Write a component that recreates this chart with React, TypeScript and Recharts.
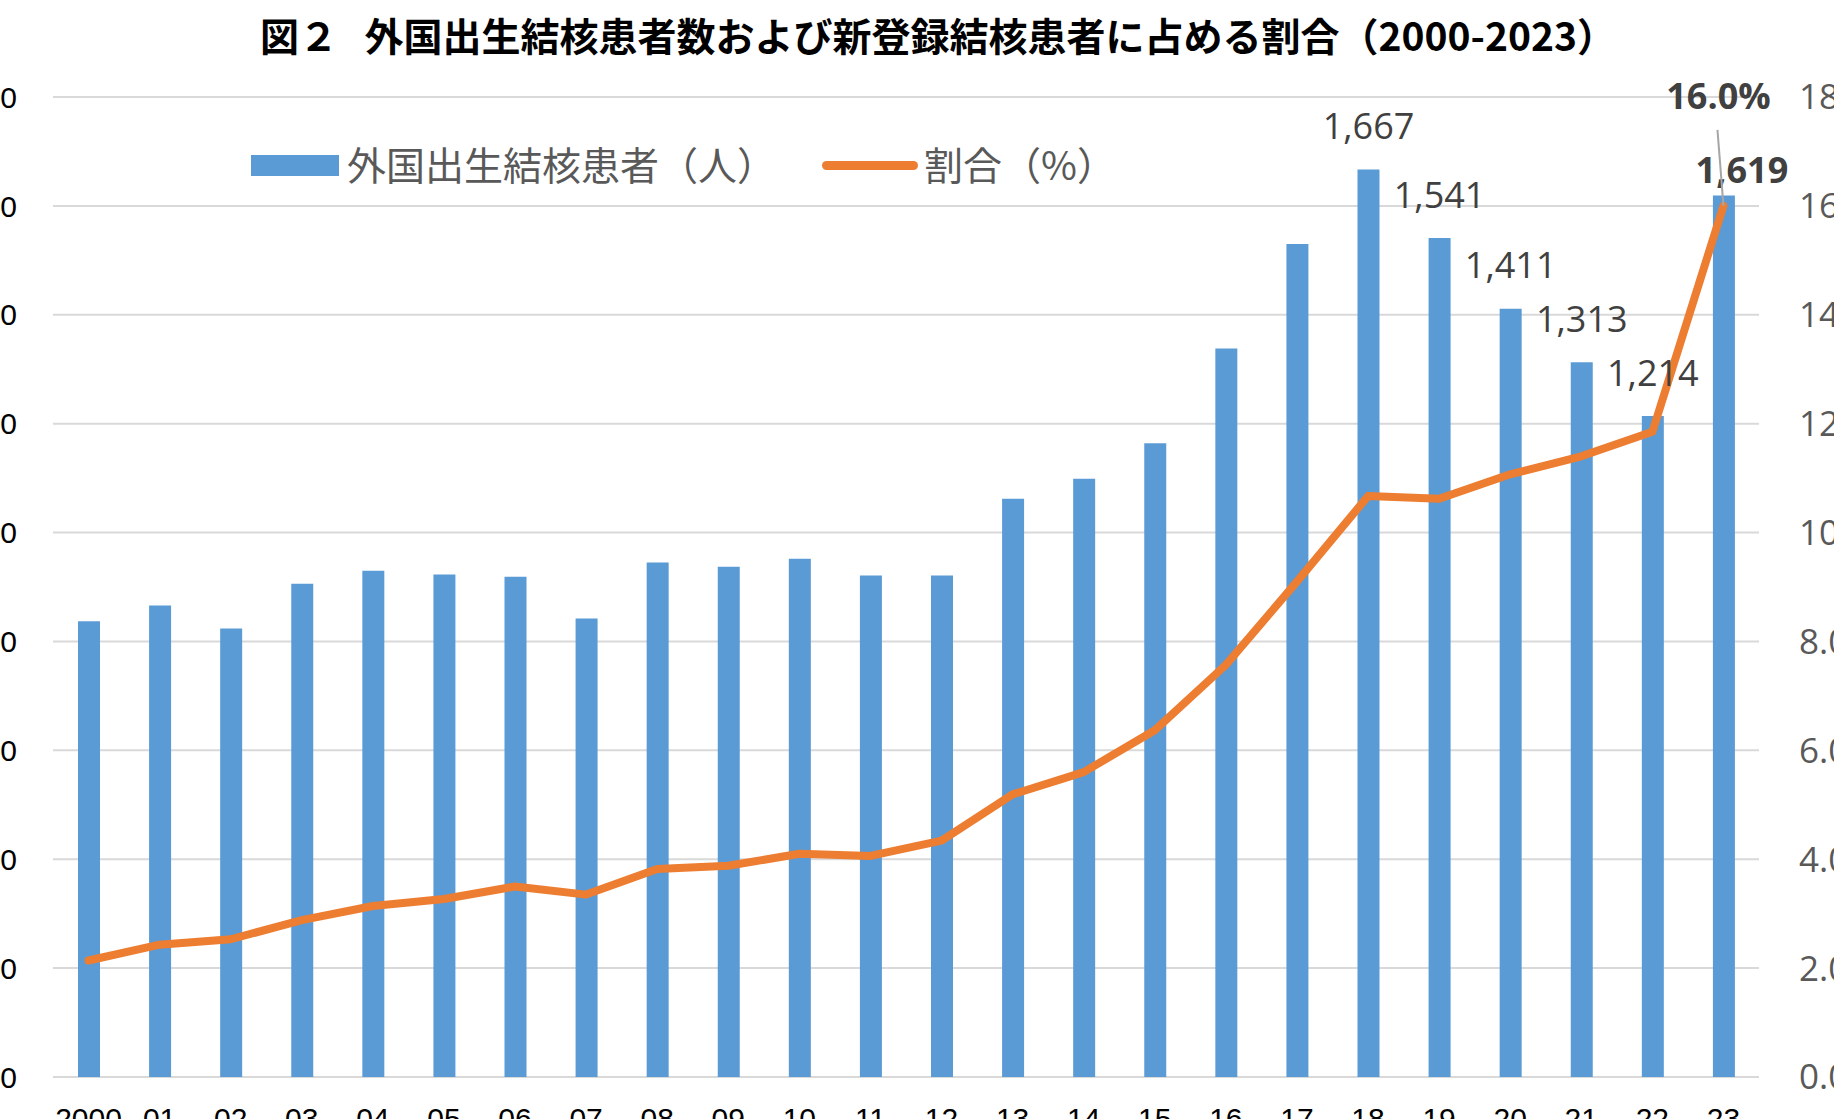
import {
  ComposedChart,
  Bar,
  Line,
  XAxis,
  YAxis,
  CartesianGrid,
  Legend,
  LabelList,
} from 'recharts';

const years = [
  '2000', '01', '02', '03', '04', '05', '06', '07', '08', '09', '10', '11',
  '12', '13', '14', '15', '16', '17', '18', '19', '20', '21', '22', '23',
];

// 外国出生結核患者（人）
const foreignBornCases = [
  837, 866, 824, 906, 930, 923, 919, 842, 945, 937, 952, 921,
  921, 1062, 1099, 1164, 1338, 1530, 1667, 1541, 1411, 1313, 1214, 1619,
];

// 新登録結核患者に占める割合（%）
const shareOfNewCases = [
  2.14, 2.43, 2.53, 2.88, 3.14, 3.27, 3.5, 3.35, 3.82, 3.88, 4.1, 4.06,
  4.34, 5.19, 5.6, 6.37, 7.57, 9.1, 10.67, 10.62, 11.07, 11.4, 11.85, 16.0,
];

const leftTicks = [0, 200, 400, 600, 800, 1000, 1200, 1400, 1600, 1800];
const rightTicks = [0, 2, 4, 6, 8, 10, 12, 14, 16, 18];

// bar labels are shown from 2018 on
const firstLabelled = 18;

const data = years.map((year, i) => ({
  year,
  cases: foreignBornCases[i],
  share: shareOfNewCases[i],
}));

const BLUE = '#5B9BD5';
const ORANGE = '#ED7D31';
const LABEL_GREY = '#404040';
const TEXT_GREY = '#595959';
const JP_FONT = '"Noto Sans CJK JP", sans-serif';
const NUM_FONT = '"Open Sans", sans-serif';

const renderBarLabel = (props: any) => {
  const { x, y, width, value, index } = props;
  if (index < firstLabelled || value == null) return null;
  const last = index === years.length - 1;
  return (
    <text
      x={x + width / 2 + (last ? 18 : 0)}
      y={y - (last ? 26 : 44)}
      textAnchor='middle'
      dominantBaseline='central'
      fontFamily={NUM_FONT}
      fontSize={36}
      fontWeight={last ? 700 : 400}
      fill={LABEL_GREY}
    >
      {Number(value).toLocaleString('en-US')}
    </text>
  );
};

const renderLineLabel = (props: any) => {
  const { x, y, value, index } = props;
  if (index !== years.length - 1) return null;
  return (
    <g>
      <line x1={x - 6} y1={y - 76} x2={x} y2={y} stroke='#A6A6A6' strokeWidth={2} />
      <text
        x={x - 5}
        y={y - 110}
        textAnchor='middle'
        dominantBaseline='central'
        fontFamily={NUM_FONT}
        fontSize={36}
        fontWeight={700}
        fill={LABEL_GREY}
      >
        {Number(value).toFixed(1)}%
      </text>
    </g>
  );
};

// legend item offsets, keyed by series
const itemLefts: Record<string, number> = { cases: 0, share: 571 };

const renderLegend = (props: any) => {
  const { payload } = props;
  return (
    <div style={{ position: 'relative', width: 900, height: 40 }}>
      {(payload || []).map((entry: any) => {
        const isLine = entry.dataKey === 'share';
        const left = itemLefts[entry.dataKey] ?? 0;
        return (
          <div key={entry.value} style={{ position: 'absolute', left, top: 0, height: 40 }}>
            {isLine ? (
              <div
                style={{
                  position: 'absolute',
                  left: 0,
                  top: 15,
                  width: 96,
                  height: 9,
                  borderRadius: 5,
                  background: ORANGE,
                }}
              />
            ) : (
              <div
                style={{
                  position: 'absolute',
                  left: 0,
                  top: 9,
                  width: 88,
                  height: 21,
                  background: BLUE,
                }}
              />
            )}
            <span
              style={{
                position: 'absolute',
                left: isLine ? 102 : 96,
                top: -3,
                lineHeight: '40px',
                whiteSpace: 'nowrap',
                fontFamily: JP_FONT,
                fontSize: 39,
                color: TEXT_GREY,
              }}
            >
              {entry.value}
            </span>
          </div>
        );
      })}
    </div>
  );
};

const App = () => {
  return (
    <div
      style={{
        position: 'absolute',
        left: 0,
        top: 0,
        width: 1834,
        height: 1119,
        overflow: 'hidden',
        background: '#fff',
      }}
    >
      <div
        style={{
          position: 'absolute',
          left: 0,
          top: 13,
          width: 1876,
          textAlign: 'center',
          fontFamily: JP_FONT,
          fontWeight: 700,
          fontSize: 39,
          lineHeight: '42px',
          color: '#000',
          whiteSpace: 'nowrap',
        }}
      >
        図２&nbsp;&nbsp;&nbsp;外国出生結核患者数および新登録結核患者に占める割合（2000-2023）
      </div>
      <div style={{ position: 'absolute', left: -100, top: 0 }}>
        <ComposedChart
          width={1934}
          height={1150}
          data={data}
          margin={{ top: 97, right: 0, bottom: 0, left: 0 }}
        >
          <CartesianGrid
            vertical={false}
            yAxisId='left'
            stroke='#D9D9D9'
            strokeWidth={2}
          />
          <XAxis
            dataKey='year'
            interval={0}
            height={73}
            axisLine={false}
            tickLine={false}
            tickSize={0}
            tickMargin={31}
            tick={{ fontFamily: '"Liberation Sans", Arial', fontSize: 30, fill: '#000' }}
          />
          <YAxis
            yAxisId='left'
            width={153}
            domain={[0, 1800]}
            ticks={leftTicks}
            axisLine={false}
            tickLine={false}
            tickSize={0}
            tickMargin={36}
            tickFormatter={(v: number) => v.toLocaleString('en-US')}
            tick={{ fontFamily: '"Liberation Sans", Arial', fontSize: 30, fill: '#000' }}
          />
          <YAxis
            yAxisId='right'
            orientation='right'
            width={75}
            domain={[0, 18]}
            ticks={rightTicks}
            axisLine={false}
            tickLine={false}
            tickSize={0}
            tickMargin={40}
            tickFormatter={(v: number) => v.toFixed(1)}
            tick={{ fontFamily: NUM_FONT, fontSize: 35, fill: TEXT_GREY, textAnchor: 'start' }}
          />
          <Legend
            layout='horizontal'
            verticalAlign='middle'
            align='center'
            content={renderLegend}
            wrapperStyle={{ left: 351, top: 146, width: 900, height: 40 }}
          />
          <Bar
            yAxisId='left'
            dataKey='cases'
            name='外国出生結核患者（人）'
            fill={BLUE}
            barSize={22}
            isAnimationActive={false}
          >
            <LabelList dataKey='cases' content={renderBarLabel} />
          </Bar>
          <Line
            yAxisId='right'
            dataKey='share'
            name='割合（%）'
            type='linear'
            stroke={ORANGE}
            strokeWidth={8}
            strokeLinecap='round'
            strokeLinejoin='round'
            dot={false}
            activeDot={false}
            legendType='line'
            isAnimationActive={false}
          >
            <LabelList dataKey='share' content={renderLineLabel} />
          </Line>
        </ComposedChart>
      </div>
    </div>
  );
};

export default App;
